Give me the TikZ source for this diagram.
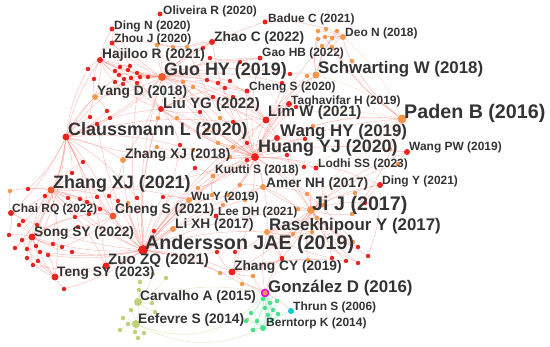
\documentclass[tikz,border=0pt]{standalone}
\usepackage{fontspec}
\setmainfont{Liberation Sans}
\definecolor{cRed}{RGB}{235,35,30}
\definecolor{cOrg}{RGB}{246,150,75}
\definecolor{cOrgRed}{RGB}{240,90,40}
\definecolor{cOlive}{RGB}{190,208,120}
\definecolor{cGreen}{RGB}{70,225,140}
\definecolor{cCyan}{RGB}{0,205,205}
\definecolor{cMag}{RGB}{230,0,230}
\definecolor{edgecol}{RGB}{247,140,130}
\definecolor{edgeol}{RGB}{205,220,150}
\definecolor{edgegr}{RGB}{150,235,185}
\definecolor{labcol}{RGB}{51,51,51}
\pgfdeclarelayer{bg}
\pgfsetlayers{bg,main}
\tikzset{
  nr/.style={circle,inner sep=0pt,fill=cRed,minimum size=#1*0.85pt},
  nr/.default=4.5,
  no/.style={circle,inner sep=0pt,fill=cOrg,minimum size=#1*0.85pt},
  no/.default=4.5,
  nor/.style={circle,inner sep=0pt,fill=cOrgRed,minimum size=#1*0.85pt},
  nor/.default=4.5,
  nol/.style={circle,inner sep=0pt,fill=cOlive,minimum size=#1*0.85pt},
  nol/.default=4.5,
  ng/.style={circle,inner sep=0pt,fill=cGreen,minimum size=#1*0.85pt},
  ng/.default=4.5,
  edge/.style={draw=edgecol,line width=0.35pt,opacity=0.6},
  edgeo/.style={draw=edgeol,line width=0.35pt,opacity=0.7},
  edgeg/.style={draw=edgegr,line width=0.35pt,opacity=0.7},
  lab/.style={anchor=west,inner sep=0pt,text=labcol},
  labxs/.style={lab,font=\bfseries\fontsize{10.2pt}{11pt}\selectfont},
  labs/.style={lab,font=\bfseries\fontsize{11.7pt}{13pt}\selectfont},
  labm/.style={lab,font=\bfseries\fontsize{12.9pt}{14pt}\selectfont},
  labl/.style={lab,font=\bfseries\fontsize{14.4pt}{16pt}\selectfont},
  labxl/.style={lab,font=\bfseries\fontsize{15.3pt}{17pt}\selectfont},
  labxxl/.style={lab,font=\bfseries\fontsize{16.8pt}{18pt}\selectfont},
}

\begin{document}
\begin{tikzpicture}[x=0.03cm,y=-0.03cm]
  \useasboundingbox (0,0) rectangle (550,347);
  % main items
  \node[nr=5] (oliv) at (160,14) {};
  \node[nr=5] (badue) at (265,22) {};
  \node[nr=5] (dingn) at (112,29) {};
  \node[nr=5] (zhouj) at (112,43) {};
  \node[no=6] (deo) at (343,37) {};
  \node[nr=6] (zhaoc) at (212,42) {};
  \node[nr=5] (gaohb) at (260,58) {};
  \node[nr=6] (hajiloo) at (100,60) {};
  \node[no=7] (schw) at (316,75) {};
  \node[nor=8] (guo) at (162,77) {};
  \node[nr=5] (chengA) at (247,91) {};
  \node[no=6] (yangd) at (95,97) {};
  \node[nr=6] (tagh) at (289,104) {};
  \node[nr=6] (liuyg) at (161,109) {};
  \node[no=9] (paden) at (402,119) {};
  \node[nr=7] (limw) at (266,120) {};
  \node[nr=7] (claus) at (66,137) {};
  \node[nr=6] (wanghy) at (277,138) {};
  \node[nr=6] (wangpw) at (407,152) {};
  \node[nr=8] (huang) at (255,157) {};
  \node[no=6] (zhxjA) at (123,160) {};
  \node[nr=5] (lodhi) at (316,168) {};
  \node[no=5] (kuutti) at (213,176) {};
  \node[nr=6] (dingy) at (380,185) {};
  \node[no=6] (amer) at (263,187) {};
  \node[nor=7] (zhxjB) at (51,190) {};
  \node[no=6] (wuy) at (189,200) {};
  \node[no=8] (jij) at (311,210) {};
  \node[nr=6] (chai) at (11,213) {};
  \node[nor=7] (chengB) at (113,216) {};
  \node[nr=5] (leedh) at (216,216) {};
  \node[no=6] (lixh) at (173,229) {};
  \node[no=6] (rasek) at (267,232) {};
  \node[nr=7] (song) at (32,237) {};
  \node[nr=10] (anders) at (143,250) {};
  \node[nr=7] (zuo) at (106,266) {};
  \node[nr=7] (zhcy) at (232,272) {};
  \node[nr=7] (teng) at (55,277) {};
  \node[no=7,draw=cMag,line width=1.3pt] (gonz) at (265,293) {};
  \node[nol=8] (carv) at (138,302) {};
  \node[circle,inner sep=0pt,fill=cCyan,minimum size=6*0.85pt] (thrun) at (291,311) {};
  \node[nol=8] (eef) at (136,324) {};
  \node[ng=6] (bern) at (263,328) {};

  % links between the main items
  \begin{pgfonlayer}{bg}
    \foreach \a/\b in {anders/zhxjB,anders/claus,anders/huang,anders/guo,anders/liuyg,anders/chengB,
      anders/zuo,anders/teng,anders/song,anders/wuy,anders/lixh,anders/leedh,anders/zhcy,anders/jij,
      anders/rasek,anders/kuutti,anders/zhxjA,anders/amer,anders/chai,anders/limw,anders/wanghy,
      huang/guo,huang/liuyg,huang/limw,huang/wanghy,huang/claus,huang/zhxjB,huang/jij,huang/rasek,
      huang/paden,huang/wangpw,huang/lodhi,huang/kuutti,huang/amer,huang/dingy,huang/tagh,
      huang/chengA,huang/schw,huang/gaohb,huang/zhaoc,huang/zhcy,
      guo/hajiloo,guo/zhouj,guo/dingn,guo/oliv,guo/zhaoc,guo/yangd,guo/liuyg,guo/claus,guo/chengA,
      guo/limw,guo/badue,guo/gaohb,guo/zhxjA,guo/wanghy,
      claus/yangd,claus/zhxjB,claus/chai,claus/zhxjA,claus/liuyg,claus/hajiloo,claus/song,
      claus/chengB,claus/zuo,hajiloo/dingn,hajiloo/zhouj,hajiloo/yangd,
      jij/rasek,jij/amer,jij/dingy,jij/wangpw,jij/zhcy,jij/lodhi,
      zhxjB/chengB,zhxjB/song,zhxjB/chai,zhxjB/teng,zhxjB/zuo,zhxjB/wuy,
      limw/wanghy,limw/tagh,limw/chengA,limw/schw,gonz/zhcy,gonz/rasek,gonz/thrun,gonz/jij}
      \draw[edge] (\a) to[bend left=10] (\b);
    \foreach \a/\b in {paden/schw,paden/deo,paden/wanghy,paden/jij,paden/limw,paden/lodhi,paden/gonz}
      \draw[edge,draw=cOrg,opacity=0.3] (\a) to[bend right=12] (\b);
    \draw[edgeo] (carv) to[bend left=10] (eef);
    \draw[edgeo] (carv) to[bend left=15] (gonz);
    \draw[edgeo] (eef) to[bend right=25] (bern);
    \draw[edgeo] (eef) to[bend right=35] (gonz);
    \draw[edgeg] (bern) to[bend right=10] (gonz);
    \draw[edgeg] (bern) to[bend left=10] (thrun);
  \end{pgfonlayer}

  % red group by Hajiloo
  \foreach \x/\y/\p/\q [count=\i] in {88/69/hajiloo/claus,94/79/hajiloo/yangd,115/71/hajiloo/guo,
      119/75/guo/claus,128/70/hajiloo/guo,137/73/guo/liuyg,124/79/hajiloo/huang,131/78/guo/claus,
      140/77/guo/anders,148/77/guo/hajiloo,115/82/hajiloo/liuyg,123/84/guo/yangd,137/83/liuyg/hajiloo,
      130/66/hajiloo/zhouj,120/67/dingn/guo}{
    \node[nr] (h\i) at (\x,\y) {};
    \begin{pgfonlayer}{bg}
      \draw[edge] (h\i) to[bend left=10] (\p);
      \draw[edge] (h\i) to[bend right=10] (\q);
    \end{pgfonlayer}}

  % upper middle
  \foreach \x/\y/\s/\p/\q [count=\i] in {157/45/no/guo/zhaoc,173/47/no/guo/zhouj,187/47/no/zhaoc/huang,
      203/48/nr/zhaoc/guo,210/58/nr/guo/gaohb,183/82/no/guo/huang,193/87/no/liuyg/limw,
      207/80/nr/guo/chengA,218/83/nr/huang/guo,230/81/nr/limw/guo,225/88/nr/chengA/liuyg,
      240/62/nr/gaohb/guo,213/97/nr/huang/liuyg,233/97/nr/limw/guo,200/112/nr/liuyg/huang,
      107/111/nr/claus/yangd,110/118/nr/claus/guo,90/117/nr/yangd/claus,97/124/nr/claus/anders,
      158/118/no/liuyg/anders,177/118/no/liuyg/huang,220/118/no/huang/guo,233/122/nr/limw/claus,
      207/130/no/huang/liuyg,157/147/no/zhxjA/huang,180/145/nr/anders/liuyg,193/150/no/huang/claus,
      218/143/no/huang/guo,233/147/no/huang/wanghy,247/143/nr/limw/anders,230/157/no/huang/kuutti,
      247/160/nr/huang/anders,83/162/nr/claus/zhxjB,72/173/nr/zhxjB/claus,195/168/nr/kuutti/anders}{
    \node[\s] (u\i) at (\x,\y) {};
    \begin{pgfonlayer}{bg}
      \draw[edge] (u\i) to[bend left=10] (\p);
      \draw[edge] (u\i) to[bend right=10] (\q);
    \end{pgfonlayer}}

  % right side and group by Deo
  \foreach \x/\y/\s/\p/\q [count=\i] in {318/31/no/deo/schw,326/29/no/deo/badue,337/31/no/deo/schw,
      318/39/no/deo/schw,325/37/no/deo/paden,332/38/no/deo/schw,322/46/no/deo/huang,332/47/no/deo/paden,
      352/61/no/deo/paden,307/76/no/schw/huang,290/74/nr/schw/guo,282/83/nr/limw/guo,
      296/107/nr/tagh/huang,313/126/no/paden/huang,305/139/nr/wanghy/huang,287/155/nr/huang/jij,
      304/167/nr/lodhi/huang,390/149/no/paden/wangpw,398/164/no/wangpw/jij}{
    \node[\s] (d\i) at (\x,\y) {};
    \begin{pgfonlayer}{bg}
      \draw[edge] (d\i) to[bend left=10] (\p);
      \draw[edge] (d\i) to[bend right=10] (\q);
    \end{pgfonlayer}}

  % red group by Song
  \foreach \x/\y/\p/\q [count=\i] in {23/221/song/chai,19/225/song/zhxjB,37/225/song/claus,
      9/235/song/chai,22/240/song/teng,15/248/song/zhxjB,27/249/song/anders,36/246/song/claus,
      40/252/song/teng,48/255/teng/anders,53/244/song/zhxjB,62/247/song/chengB,72/252/song/anders,
      27/258/song/teng,38/261/teng/song,33/265/song/zuo,64/289/teng/anders,78/227/song/chengB}{
    \node[nr] (s\i) at (\x,\y) {};
    \begin{pgfonlayer}{bg}
      \draw[edge] (s\i) to[bend left=10] (\p);
      \draw[edge] (s\i) to[bend right=10] (\q);
    \end{pgfonlayer}}

  % lower middle
  \foreach \x/\y/\s/\p/\q [count=\i] in {10/191/no/zhxjB/chai,28/189/nr/zhxjB/claus,
      45/196/nr/zhxjB/song,68/198/nr/zhxjB/anders,80/199/nr/zhxjB/chengB,87/202/nr/chengB/claus,
      97/197/nr/zhxjB/anders,109/196/nr/chengB/zhxjA,118/201/nr/anders/zhxjB,128/203/no/chengB/anders,
      137/198/nr/anders/claus,163/197/nr/wuy/anders,100/209/nr/chengB/zhxjB,89/214/nr/chengB/song,
      75/217/nr/zhxjB/song,154/231/nr/anders/lixh,198/188/no/wuy/huang,212/195/no/kuutti/anders,
      240/185/no/amer/huang,228/195/no/wuy/huang,245/200/no/amer/anders,223/205/no/leedh/huang,
      307/194/no/jij/amer,217/252/nr/anders/zhcy,235/252/nr/zhcy/rasek,282/258/nr/rasek/jij,
      308/260/no/jij/zhcy,220/273/no/zhcy/anders,253/276/no/zhcy/gonz,242/284/no/gonz/anders,
      323/205/no/jij/lodhi,355/193/no/dingy/jij,365/203/nr/dingy/jij,352/214/no/jij/paden,
      317/218/no/jij/rasek,298/209/no/jij/amer,293/234/no/rasek/jij,312/232/no/jij/rasek,
      353/242/no/jij/huang,358/247/nr/jij/rasek,368/256/nr/jij/dingy,346/261/nr/jij/zhcy,
      358/263/nr/jij/rasek,332/258/nr/rasek/jij,282/259/nr/zhcy/rasek}{
    \node[\s] (z\i) at (\x,\y) {};
    \begin{pgfonlayer}{bg}
      \draw[edge] (z\i) to[bend left=10] (\p);
      \draw[edge] (z\i) to[bend right=10] (\q);
    \end{pgfonlayer}}

  % olive group
  \foreach \x/\y/\p [count=\i] in {140/282/carv,153/274/carv,166/278/carv,139/290/carv,152/303/carv,
      131/310/eef,123/318/eef,155/312/carv,128/324/eef,120/330/eef,135/332/eef,144/333/eef,
      138/338/eef,247/320/bern,253/330/bern}{
    \node[nol] (o\i) at (\x,\y) {};
    \begin{pgfonlayer}{bg}
      \draw[edgeo] (o\i) to[bend left=10] (\p);
    \end{pgfonlayer}}

  % green group
  \foreach \x/\y/\p [count=\i] in {263/299/gonz,270/303/gonz,277/301/bern,265/308/bern,273/310/gonz,
      278/314/bern,268/315/bern,257/321/bern,272/320/gonz,251/313/bern,246/321/bern,253/330/bern}{
    \node[ng] (g\i) at (\x,\y) {};
    \begin{pgfonlayer}{bg}
      \draw[edgeg] (g\i) to[bend left=10] (\p);
      \draw[edgeg] (g\i) to[bend right=10] (gonz);
    \end{pgfonlayer}}

  % labels
  \node[labxs] (olivL) at (163,11) {Oliveira R (2020)};
  \node[labxs] (badueL) at (268,19) {Badue C (2021)};
  \node[labxs] (dingnL) at (114,26) {Ding N (2020)};
  \node[labxs] (zhoujL) at (114,39) {Zhou J (2020)};
  \node[labxs] (deoL) at (345,33) {Deo N (2018)};
  \node[labs] (zhaocL) at (214,38) {Zhao C (2022)};
  \node[labxs] (gaohbL) at (262,53) {Gao HB (2022)};
  \node[labs] (hajilooL) at (102,55) {Hajiloo R (2021)};
  \node[labl] (schwL) at (318,69) {Schwarting W (2018)};
  \node[labxl] (guoL) at (164,71) {Guo HY (2019)};
  \node[labxs] (chengAL) at (249,87) {Cheng S (2020)};
  \node[labs] (yangdL) at (97,92) {Yang D (2018)};
  \node[labxs] (taghL) at (291,101) {Taghavifar H (2019)};
  \node[labm] (liuygL) at (163,105) {Liu YG (2022)};
  \node[labxxl] (padenL) at (404,113) {Paden B (2016)};
  \node[labm] (limwL) at (268,113) {Lim W (2021)};
  \node[labxl] (clausL) at (68,131) {Claussmann L (2020)};
  \node[labl] (wanghyL) at (280,132) {Wang HY (2019)};
  \node[labxs] (wangpwL) at (409,147) {Wang PW (2019)};
  \node[labxl] (huangL) at (258,148) {Huang YJ (2020)};
  \node[labs] (zhxjAL) at (125,155) {Zhang XJ (2018)};
  \node[labxs] (lodhiL) at (318,164) {Lodhi SS (2023)};
  \node[labxs] (kuuttiL) at (215,170) {Kuutti S (2018)};
  \node[labxs] (dingyL) at (382,181) {Ding Y (2021)};
  \node[labs] (amerL) at (266,184) {Amer NH (2017)};
  \node[labxl] (zhxjBL) at (53,184) {Zhang XJ (2021)};
  \node[labxs] (wuyL) at (191,197) {Wu Y (2019)};
  \node[labxxl] (jijL) at (312,205) {Ji J (2017)};
  \node[labxs] (chaiL) at (12,209) {Chai RQ (2022)};
  \node[labs] (chengBL) at (115,210) {Cheng S (2021)};
  \node[labxs] (leedhL) at (218,212) {Lee DH (2021)};
  \node[labs] (lixhL) at (175,225) {Li XH (2017)};
  \node[labl] (rasekL) at (269,226) {Rasekhipour Y (2017)};
  \node[labs] (songL) at (34,233) {Song SY (2022)};
  \node[labxxl] (andersL) at (145,244) {Andersson JAE (2019)};
  \node[labm] (zuoL) at (108,261) {Zuo ZQ (2021)};
  \node[labs] (tengL) at (57,273) {Teng SY (2023)};
  \node[labs] (zhcyL) at (234,267) {Zhang CY (2019)};
  \node[labl] (gonzL) at (268,288) {González D (2016)};
  \node[labs] (carvL) at (140,297) {Carvalho A (2015)};
  \node[labxs] (thrunL) at (293,307) {Thrun S (2006)};
  \node[labs] (eefL) at (138,320) {Eefevre S (2014)};
  \node[labxs] (bernL) at (266,323) {Berntorp K (2014)};
\end{tikzpicture}
\end{document}
